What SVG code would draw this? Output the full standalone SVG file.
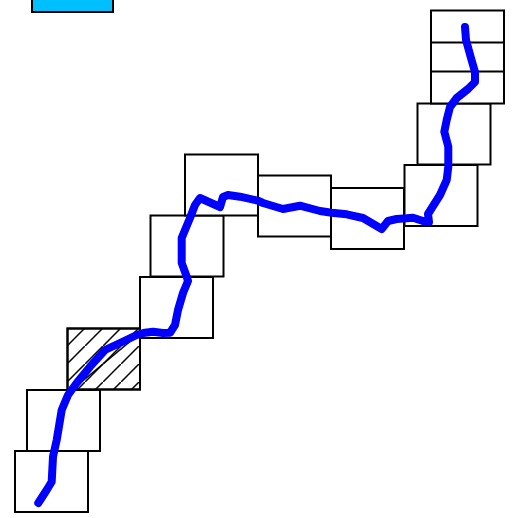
<svg xmlns="http://www.w3.org/2000/svg" width="524" height="518" viewBox="0 0 524 518">
<style>
.box{fill:#ffffff;stroke:#000000;stroke-width:2}
.frame{fill:none;stroke:#000000;stroke-width:2}
.route{fill:none;stroke:#0000ff;stroke-width:8;stroke-linecap:round;stroke-linejoin:round}
</style>
<defs>
<pattern id="hatch" patternUnits="userSpaceOnUse" width="18" height="18" x="67" y="328">
<line x1="-2" y1="20" x2="20" y2="-2" stroke="#000" stroke-width="1.5"/>
</pattern>
</defs>
<rect width="524" height="518" fill="#ffffff"/>
<g id="legend"><rect x="32" y="-50" width="81" height="62" fill="#00bfff" stroke="#000" stroke-width="2"/></g>
<g id="n1"><rect class="box" x="15" y="451" width="73" height="61"/></g>
<g id="n2"><rect class="box" x="27" y="390" width="73" height="61"/></g>
<g id="n3"><rect class="box" x="67.5" y="328.5" width="72.5" height="61"/><rect x="67.5" y="328.5" width="72.5" height="61" fill="url(#hatch)" stroke="#000" stroke-width="2"/></g>
<g id="n4"><rect class="box" x="140" y="277" width="73" height="61"/></g>
<g id="n5"><rect class="box" x="150.5" y="215.5" width="73" height="61"/></g>
<g id="n6"><rect class="box" x="185" y="154.5" width="73" height="61"/></g>
<g id="n7"><rect class="box" x="258" y="175.5" width="73" height="61"/></g>
<g id="n8"><rect class="box" x="331" y="188" width="73" height="61"/></g>
<g id="n9"><rect class="box" x="404.5" y="165" width="73" height="61"/></g>
<g id="n10"><rect class="box" x="417.5" y="103.5" width="73" height="61"/></g>
<g id="n11"><rect class="box" x="431" y="42.5" width="73" height="61"/></g>
<g id="n12"><rect class="frame" x="431" y="10.5" width="73" height="61"/></g>
<g id="connectors">
<line x1="73" y1="389" x2="139" y2="334" stroke="#000" stroke-width="1.6"/>
<path class="route" d="M38.3,503 L46.7,490 L51.7,481.7 L53,456.7 L56.7,440 L61.7,410 L68,395 L76.7,383 L90,366.7 L105,350 L120,343 L136.7,335 L145,332.7 L153,331.7 L163,333 L170,332.7 L175,325 L178,310 L183,293 L188,281 L186.7,276.7 L181.7,263 L181.7,238 L190,218 L195,205 L200,198 L220,207 L223,197 L228,195 L240,196.7 L258,200.7 L263,203 L283,209 L300,205.7 L320,211 L331.7,212.7 L346.7,214.3 L363,218 L381.7,229 L388,221 L396.7,219 L406.7,218.3 L413,217.7 L423,221 L429,222 L428,214 L440,195 L446.7,180 L448.3,166.7 L448.3,146.7 L444.3,131.7 L446.7,120 L450,107 L456.7,98 L468,89 L475,82 L475,72 L470.7,57 L466,40 L465,27"/>
</g>
</svg>
